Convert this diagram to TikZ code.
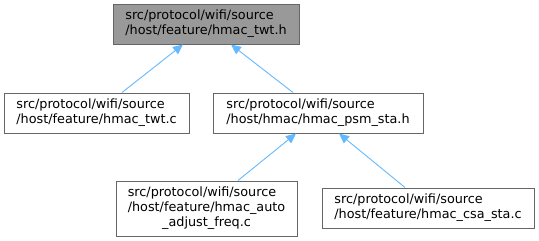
\documentclass[tikz,border=0pt]{standalone}
\usepackage{fontspec}
\setmainfont{DejaVu Sans}
\usetikzlibrary{arrows.meta,calc}
\definecolor{edgeblue}{HTML}{63B8FF}
\definecolor{bordergray}{HTML}{666666}
\definecolor{fillgray}{HTML}{999999}
\begin{document}
\begin{tikzpicture}[x=1pt,y=-1pt,
  filebox/.style={draw=bordergray,line width=1pt,fill=white,inner sep=0pt,rectangle,
    font=\fontsize{12.8}{15}\selectfont,align=left},
  rootbox/.style={filebox,fill=fillgray},
  dep/.style={draw=edgeblue,line width=0.9pt,-{Triangle[length=10pt,width=9pt]}}]
\useasboundingbox (0,0) rectangle (539,241);
\node[rootbox,minimum width=186pt,minimum height=40pt] (root) at (206,24)
  {src/protocol/wifi/source\\/host/feature/hmac\_twt.h};
\node[filebox,minimum width=185pt,minimum height=40pt] (twtc) at (96.5,113)
  {src/protocol/wifi/source\\/host/feature/hmac\_twt.c};
\node[filebox,minimum width=210pt,minimum height=40pt] (psm) at (318,113)
  {src/protocol/wifi/source\\/host/hmac/hmac\_psm\_sta.h};
\node[filebox,minimum width=181pt,minimum height=55pt] (auto) at (206.5,208.5)
  {\begin{tabular}{@{}l@{}}src/protocol/wifi/source\\/host/feature/hmac\_auto\\\multicolumn{1}{@{}c@{}}{\_adjust\_freq.c}\end{tabular}};
\node[filebox,minimum width=212pt,minimum height=40pt] (csa) at (428,208)
  {src/protocol/wifi/source\\/host/feature/hmac\_csa\_sta.c};
\draw[dep] ([xshift=25.5pt]twtc.north) -- ([xshift=-23pt]root.south);
\draw[dep] ([xshift=-25pt]psm.north) -- ([xshift=25pt]root.south);
\draw[dep] ([xshift=31.5pt]auto.north) -- ([xshift=-22pt]psm.south);
\draw[dep] ([xshift=-23pt]csa.north) -- ([xshift=21pt]psm.south);
\end{tikzpicture}
\end{document}
